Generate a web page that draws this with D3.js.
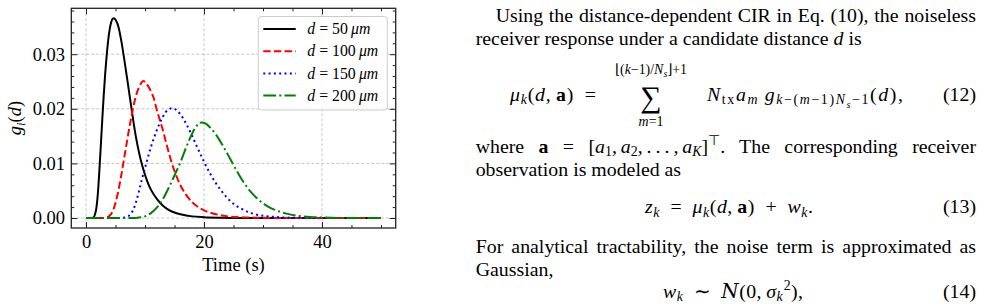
<!DOCTYPE html>
<html><head><meta charset="utf-8">
<script src="https://cdn.jsdelivr.net/npm/d3@7"></script>
<style>
html,body{margin:0;padding:0;background:#fff;}
svg{display:block;}
text{font-family:"Liberation Serif","Times New Roman",Times,serif;fill:#000;}
</style></head><body>
<svg id="c" width="985" height="305"></svg>
<script>
// ---------------- data ----------------
const distances = ["50", "100", "150", "200"];
const tBlack = [0,1,1.25,1.5,1.75,2,2.25,2.5,2.75,3,3.25,3.5,3.75,4,4.25,4.5,4.75,5,5.5,6,6.5,7,7.5,8,8.5,9,9.5,10,10.5,11,12,13,14,15,16,18,20,23,26,30,40,50];
const gBlack = [0,0,0.0001,0.0006,0.0018,0.0044,0.0085,0.0132,0.0180,0.0225,0.0265,0.0298,0.0325,0.0345,0.0358,0.0365,0.0366,0.0363,0.0350,0.0323,0.0289,0.0253,0.0216,0.0179,0.0146,0.0119,0.0097,0.0079,0.0064,0.0052,0.0035,0.0023,0.0015,0.0010,0.0007,0.0003,0.00015,0.00005,0,0,0,0];
const tRed = [0,3,3.5,4,4.5,5,5.5,6,6.5,7,7.5,8,8.5,9,9.4,9.7,10.1,10.5,11,11.5,12,12.5,13,13.5,14,14.5,15,16,17,18,19,20,21,22,24,26,30,35,40,50];
const gRed = [0,0,0.0001,0.0004,0.0012,0.0028,0.0051,0.0080,0.0112,0.0144,0.0175,0.0203,0.0225,0.0240,0.0248,0.0251,0.0248,0.0242,0.0232,0.0219,0.0198,0.0180,0.0162,0.0141,0.0121,0.0102,0.0086,0.0060,0.0042,0.0029,0.0020,0.0014,0.0010,0.0007,0.0003,0.00015,0.00004,0,0,0];
const tBlue = [0,6,6.5,7,7.5,8,8.5,9,9.5,10,10.5,11,11.5,12,12.5,13,13.5,14,14.5,15,15.5,16,17,18,19,20,21,22,23,24,25,26,28,30,32,35,40,50];
const gBlue = [0,0,0.0001,0.0003,0.0006,0.0015,0.0030,0.0050,0.0072,0.0092,0.0111,0.0130,0.0146,0.0161,0.0174,0.0185,0.0194,0.0199,0.0201,0.0200,0.0196,0.0190,0.0172,0.0150,0.0126,0.0103,0.0082,0.0064,0.0049,0.0036,0.0026,0.0019,0.0009,0.0004,0.0002,0.00005,0,0];
const tGreen = [0,8,9,10,11,12,13,14,15,16,17,18,19,19.6,20.3,21,22,23,24,25,26,27,28,29,30,31,32,33,34,36,38,40,45,50];
const gGreen = [0,0,0.0001,0.0003,0.0009,0.0019,0.0034,0.0055,0.0078,0.0102,0.0130,0.0155,0.0172,0.0175,0.0173,0.0166,0.0153,0.0136,0.0117,0.0097,0.0078,0.0061,0.0047,0.0036,0.0027,0.0020,0.0015,0.0011,0.0008,0.0004,0.0002,0.0001,0,0];
const xTicks = [0, 20, 40];
const xMinor = [5, 10, 15, 25, 30, 35, 45, 50];
const yTicks = [0, 0.01, 0.02, 0.03];
const yTickLabels = ["0.00", "0.01", "0.02", "0.03"];
const yMinor = [0.002,0.004,0.006,0.008,0.012,0.014,0.016,0.018,0.022,0.024,0.026,0.028,0.032,0.034,0.036,0.038];
const xLabel = "Time (s)";

// ---------------- chart ----------------
const svg = d3.select("#c");
svg.append("rect").attr("width", 985).attr("height", 305).attr("fill", "#fff");
const L = 71.3, R = 395.7, T = 8.3, B = 228;
const x = d3.scaleLinear().domain([-2.5, 52.5]).range([L, R]);
const y = d3.scaleLinear().domain([-0.00183, 0.03841]).range([B, T]);

const series = [
  {t: tBlack, g: gBlack, color: "#000000", dash: null},
  {t: tRed, g: gRed, color: "#ff0000", dash: "7.4,3.2"},
  {t: tBlue, g: gBlue, color: "#0000ff", dash: "2,3.3"},
  {t: tGreen, g: gGreen, color: "#008000", dash: "12.8,3.2,2,3.2"}
];

const grid = svg.append("g").attr("stroke", "#b8b8b8").attr("stroke-width", 0.8).attr("stroke-dasharray", "3,2");
grid.selectAll(".gx").data(xTicks).enter().append("line")
  .attr("x1", d => x(d)).attr("x2", d => x(d)).attr("y1", T).attr("y2", B);
grid.selectAll(".gy").data(yTicks).enter().append("line")
  .attr("y1", d => y(d)).attr("y2", d => y(d)).attr("x1", L).attr("x2", R);

svg.append("clipPath").attr("id", "clip").append("rect").attr("x", L).attr("y", T).attr("width", R - L).attr("height", B - T);

const line = d3.line().x(d => x(d[0])).y(d => y(d[1])).curve(d3.curveMonotoneX);
const lg = svg.append("g").attr("clip-path", "url(#clip)");
series.forEach(s => {
  const pts = s.t.map((t, i) => [t, s.g[i]]);
  const p = lg.append("path").attr("d", line(pts)).attr("fill", "none")
    .attr("stroke", s.color).attr("stroke-width", 2);
  if (s.dash) p.attr("stroke-dasharray", s.dash);
});

function styleAxis(g) {
  g.select(".domain").remove();
  g.selectAll(".tick line").attr("stroke", "#222").attr("stroke-width", 1);
  g.selectAll("text").attr("font-family", '"Liberation Serif","Times New Roman",serif').attr("font-size", 18.5).attr("fill", "#000");
}
svg.append("g").attr("transform", `translate(0,${B})`)
  .call(d3.axisBottom(x).tickValues(xTicks).tickFormat(d3.format("d")).tickSize(-6).tickPadding(7)).call(styleAxis);
svg.append("g").attr("transform", `translate(0,${B})`)
  .call(d3.axisBottom(x).tickValues(xMinor).tickFormat("").tickSize(-3)).call(styleAxis);
svg.append("g").attr("transform", `translate(0,${T})`)
  .call(d3.axisTop(x).tickValues(xTicks).tickFormat("").tickSize(-6)).call(styleAxis);
svg.append("g").attr("transform", `translate(0,${T})`)
  .call(d3.axisTop(x).tickValues(xMinor).tickFormat("").tickSize(-3)).call(styleAxis);
svg.append("g").attr("transform", `translate(${L},0)`)
  .call(d3.axisLeft(y).tickValues(yTicks).tickFormat((d, i) => yTickLabels[i]).tickSize(-6).tickPadding(6.3)).call(styleAxis);
svg.append("g").attr("transform", `translate(${L},0)`)
  .call(d3.axisLeft(y).tickValues(yMinor).tickFormat("").tickSize(-3)).call(styleAxis);
svg.append("g").attr("transform", `translate(${R},0)`)
  .call(d3.axisRight(y).tickValues(yTicks).tickFormat("").tickSize(-6)).call(styleAxis);
svg.append("g").attr("transform", `translate(${R},0)`)
  .call(d3.axisRight(y).tickValues(yMinor).tickFormat("").tickSize(-3)).call(styleAxis);

svg.append("rect").attr("x", L).attr("y", T).attr("width", R - L).attr("height", B - T)
  .attr("fill", "none").attr("stroke", "#222").attr("stroke-width", 1.3);

// rich text helper
function rich(g, px, py, parts, o = {}) {
  const fs = o.fs || 19.84;
  const t = g.append("text").attr("x", px).attr("y", py).attr("font-size", fs);
  if (o.anchor) t.attr("text-anchor", o.anchor);
  if (o.transform) t.attr("transform", o.transform);
  let cur = 0;
  parts.forEach(p => {
    const txt = p[0], f = p[1] || "", dx = p[2];
    const ts = t.append("tspan").text(txt);
    let sh = 0, sc = 1;
    if (f.includes("_")) { sh = 0.2; sc = 0.7; }
    if (f.includes("^")) { sh = -0.38; sc = 0.7; }
    if (f.includes("=")) { sh = 0.36; sc = 0.5; }
    if (f.includes("i")) ts.attr("font-style", "italic");
    if (f.includes("b")) ts.attr("font-weight", "bold");
    if (f.includes("c")) ts.attr("font-family", '"DejaVu Serif",serif').attr("font-style", "italic");
    const target = sh * fs;
    if (Math.abs(target - cur) > 1e-6) { ts.attr("dy", target - cur); cur = target; }
    if (dx !== undefined) ts.attr("dx", dx);
    if (sc !== 1) ts.attr("font-size", fs * sc);
  });
  if (o.width) t.attr("textLength", o.width).attr("lengthAdjust", "spacing");
  return t;
}
function justify(t, target) {
  const w = t.node().getComputedTextLength();
  const n = (t.text().match(/ /g) || []).length;
  if (n > 0) t.attr("word-spacing", (target - w) / n);
}

// axis labels
rich(svg, (L + R) / 2, 270.5, [[xLabel]], {fs: 18.5, anchor: "middle"});
rich(svg, 0, 0, [["g", "i"], ["i", "i_"], ["("], ["d", "i"], [")"]], {fs: 18.5, anchor: "middle", transform: `translate(21,${(T + B) / 2}) rotate(-90)`});

// legend
const leg = svg.append("g");
leg.append("rect").attr("x", 258.3).attr("y", 16.5).attr("width", 129).attr("height", 93.5).attr("rx", 3)
  .attr("fill", "#fff").attr("fill-opacity", 0.8).attr("stroke", "#cccccc").attr("stroke-width", 1);
series.forEach((s, i) => {
  const cy = 29 + i * 22.2;
  const l = leg.append("line").attr("x1", 263.3).attr("x2", 295.7).attr("y1", cy).attr("y2", cy)
    .attr("stroke", s.color).attr("stroke-width", 2);
  if (s.dash) l.attr("stroke-dasharray", s.dash);
  rich(leg, 307.3, cy + 5.2, [["d", "i"], [" = " + distances[i] + "\u2009"], ["μm", "i"]], {fs: 15.8});
});

// ---------------- text column ----------------
const tx = svg.append("g");
const RE = 976, LE = 475.7;
justify(rich(tx, 495.7, 21.5, [["Using the distance-dependent CIR in Eq. (10), the noiseless"]]), RE - 495.7);
rich(tx, LE, 45.3, [["receiver response under a candidate distance "], ["d", "i"], [" is"]]);

// Eq (12)
rich(tx, 510, 100.5, [["μ", "i"], ["k", "i_"], ["("], ["d", "i"], [",\u2009"], ["a", "b"], [")\u2002="]], {width: 86});
rich(tx, 651, 106.5, [["∑"]], {fs: 30, anchor: "middle"});
rich(tx, 651, 74, [["⌊("], ["k", "i"], ["−1)/"], ["N", "i"], ["s", "i_"], ["⌋+1"]], {fs: 13.9, anchor: "middle"});
rich(tx, 651, 125.5, [["m", "i"], ["=1"]], {fs: 13.9, anchor: "middle"});
rich(tx, 707, 100.5, [["N", "i"], ["tx", "_"], ["a", "i"], ["m", "i_"], ["\u2009"], ["g", "i"], ["k", "i_"], ["−(", "_"], ["m", "i_"], ["−1)", "_"], ["N", "i_"], ["s", "i="], ["−1", "_"], ["("], ["d", "i"], ["),"]], {width: 196});
rich(tx, RE, 100.5, [["(12)"]], {anchor: "end"});

justify(rich(tx, LE, 152.5, [["where "], ["a", "b"], [" = ["], ["a", "i"], ["1", "_"], [",\u2009"], ["a", "i"], ["2", "_"], [",\u2009.\u2009.\u2009.\u2009,\u2009"], ["a", "i"], ["K", "i_"], ["]"], ["⊤", "^"], [". The corresponding receiver"]]), RE - LE);
rich(tx, LE, 176.3, [["observation is modeled as"]]);

// Eq (13)
rich(tx, 645, 213, [["z", "i"], ["k", "i_"], ["\u2002=\u2002"], ["μ", "i"], ["k", "i_"], ["("], ["d", "i"], [",\u2009"], ["a", "b"], [")\u2002+\u2002"], ["w", "i"], ["k", "i_"], ["."]], {width: 168});
rich(tx, RE, 213, [["(13)"]], {anchor: "end"});

justify(rich(tx, LE, 252.5, [["For analytical tractability, the noise term is approximated as"]]), RE - LE);
rich(tx, LE, 275.5, [["Gaussian,"]]);

// Eq (14)
rich(tx, 663, 297.5, [["w", "i"], ["k", "i_"], ["\u2002∼\u2002"], ["N", "c"], ["(0,\u2009"], ["σ", "i"], ["k", "i_"], ["2", "^", 0.5], ["),"]], {width: 140});
rich(tx, RE, 297.5, [["(14)"]], {anchor: "end"});
</script>
</body></html>
